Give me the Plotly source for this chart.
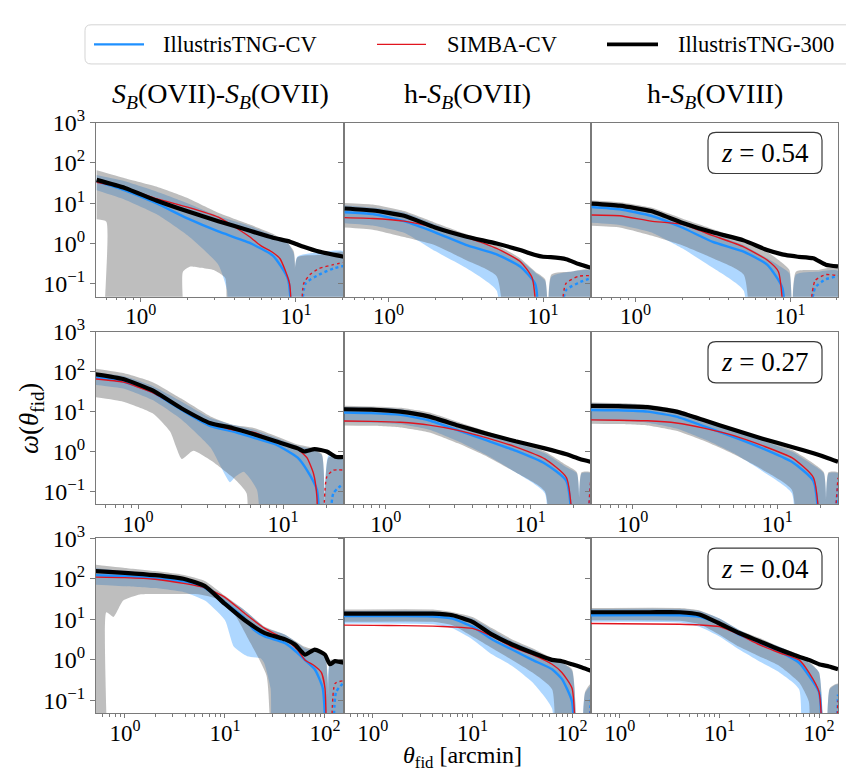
import math
import plotly.graph_objects as go

W, H = 846, 774
Z = 1e-4  # stands for zero / negative values (falls below the log axis)

# ---------------- labels ----------------
col_titles = [
    "<i>S</i><sub><i>B</i></sub>(OVII)-<i>S</i><sub><i>B</i></sub>(OVII)",
    "h-<i>S</i><sub><i>B</i></sub>(OVII)",
    "h-<i>S</i><sub><i>B</i></sub>(OVIII)",
]
redshifts = ["0.54", "0.27", "0.04"]
legend_names = ["IllustrisTNG-CV", "SIMBA-CV", "IllustrisTNG-300"]
x_limits = [(0.515, 20.4), (0.513, 26.3), (0.513, 155.0)]
y_limits = (0.048, 1000.0)
x_tick_vals = [[1, 10], [1, 10], [1, 10, 100]]
x_tick_text = [["10<sup>0</sup>", "10<sup>1</sup>"], ["10<sup>0</sup>", "10<sup>1</sup>"],
               ["10<sup>0</sup>", "10<sup>1</sup>", "10<sup>2</sup>"]]
y_tick_vals = [0.1, 1, 10, 100, 1000]
y_tick_text = ["10<sup>−1</sup>", "10<sup>0</sup>", "10<sup>1</sup>", "10<sup>2</sup>", "10<sup>3</sup>"]

# ---------------- data: (theta [arcmin], omega) ----------------
# Row 1 (z = 0.54)
r1c1_black = [(0.52,38),(0.79,24),(1.26,11.7),(2.0,6.3),(3.16,3.6),(5.0,2.1),(7.1,1.4),(8.9,1.15),(10,0.98),(11.2,0.83),(14.1,0.63),(20.4,0.47)]
r1c1_blue = [(0.52,35),(0.79,21),(1.26,10),(2.0,4.2),(3.16,2.0),(5.0,1.05),(7.1,0.5),(8.9,0.13),(9.6,Z)]
r1c1_blue_neg = [(10.4,Z),(11.5,0.1),(14.1,0.17),(17.4,0.24),(20.4,0.28)]
r1c1_red = [(0.52,33),(0.79,24),(1.26,13),(2.0,8.0),(3.16,4.5),(5.0,1.5),(5.9,0.9),(7.1,0.6),(7.9,0.42),(9.1,0.1),(9.5,Z)]
r1c1_red_neg = [(10.6,Z),(11.2,0.1),(12.3,0.17),(14.1,0.24),(17.4,0.30),(20.4,0.34)]
r1c1_gray_hi = [(0.52,66),(0.79,42),(1.26,26),(2.0,13.5),(3.16,5.8),(5.0,3.0),(7.1,1.74),(8.9,1.0),(9.7,0.63),(9.95,Z),(10.2,0.45),(14.1,0.52),(20.4,0.6)]
r1c1_gray_lo = [(0.52,4.0),(0.6,3.5),(0.61,Z),(1.85,Z),(1.87,0.2),(2.09,0.27),(2.43,0.25),(2.95,0.22),(3.5,0.14),(3.78,Z),(20.4,Z)]
r1c1_blue_hi = [(0.52,50),(0.79,35),(1.26,19.5),(2.0,10),(3.16,4.8),(5.0,2.75),(7.1,1.6),(8.9,1.0),(9.7,0.55),(9.95,Z),(10.2,0.47),(14.1,0.6),(20.4,0.63)]
r1c1_blue_lo = [(0.52,21),(0.79,12.3),(1.26,5.4),(2.0,1.6),(3.16,0.3),(3.6,0.068),(3.8,Z),(20.4,Z)]

r1c2_black = [(0.52,7.4),(0.79,6.6),(1.26,4.9),(2.0,2.5),(3.16,1.5),(5.0,1.0),(7.1,0.69),(8.9,0.52),(10,0.47),(11.2,0.46),(14.1,0.41),(17,0.31),(20.4,0.25)]
r1c2_blue = [(0.52,6.0),(0.79,5.4),(1.26,3.6),(2.0,1.9),(3.16,0.93),(5.0,0.54),(7.1,0.27),(8.9,0.098),(9.4,Z)]
r1c2_blue_neg = [(12,Z),(14,0.068),(17,0.107),(20.4,0.14)]
r1c2_red = [(0.52,4.4),(0.79,4.2),(1.26,3.6),(2.0,2.5),(3.16,1.45),(5.0,0.76),(7.1,0.36),(8.5,0.14),(9.7,Z)]
r1c2_red_neg = [(12.4,Z),(14,0.1),(17,0.155),(20.4,0.16)]
r1c2_gray_hi = [(0.52,10.2),(0.79,9.3),(1.26,6.4),(2.0,3.3),(3.16,1.74),(5.0,0.93),(7.1,0.43),(8.9,0.2),(10.3,0.13),(10.9,Z),(11.3,0.17),(15,0.2),(20.4,0.22)]
r1c2_gray_lo = [(0.52,2.5),(0.79,2.2),(1.26,1.45),(2.0,0.91),(3.16,0.39),(5.0,0.155),(6.7,Z),(20.4,Z)]
r1c2_blue_hi = [(0.52,8.9),(0.79,7.8),(1.26,5.9),(2.0,3.0),(3.16,1.45),(5.0,0.76),(7.1,0.39),(8.9,0.19),(10.3,0.12),(10.9,Z),(11.3,0.15),(15,0.2),(20.4,0.21)]
r1c2_blue_lo = [(0.52,3.2),(0.79,2.8),(1.26,1.85),(2.0,0.65),(3.16,0.25),(5.0,0.068),(5.5,Z),(20.4,Z)]

r1c3_black = [(0.52,9.8),(0.79,8.7),(1.26,6.4),(2.0,3.3),(3.16,1.9),(5.0,1.2),(7.1,0.69),(8.9,0.54),(10,0.5),(11.2,0.47),(14.1,0.43),(17,0.3),(20.4,0.27)]
r1c3_blue = [(0.52,8.1),(0.79,7.1),(1.26,4.9),(2.0,2.5),(3.16,1.1),(5.0,0.63),(7.1,0.3),(8.9,0.08),(9.5,Z)]
r1c3_blue_neg = [(12,Z),(14.5,0.08),(17,0.13),(20.4,0.155)]
r1c3_red = [(0.52,5.1),(0.79,4.9),(1.26,3.6),(2.0,3.0),(3.16,1.58),(5.0,0.83),(7.1,0.39),(8.4,0.2),(9.7,Z)]
r1c3_red_neg = [(12,Z),(14.5,0.12),(17,0.17),(20.4,0.16)]
r1c3_gray_hi = [(0.52,11.7),(0.79,10.6),(1.26,7.8),(2.0,4.2),(3.16,2.3),(5.0,1.2),(7.1,0.63),(8.9,0.33),(9.9,0.22),(10.4,Z),(10.9,0.2),(15,0.22),(20.4,0.25)]
r1c3_gray_lo = [(0.52,2.75),(0.79,2.5),(1.26,1.58),(2.0,0.91),(3.16,0.43),(5.0,0.17),(6.4,Z),(20.4,Z)]
r1c3_blue_hi = [(0.52,10.2),(0.79,8.7),(1.26,6.4),(2.0,3.3),(3.16,1.74),(5.0,0.91),(7.1,0.43),(8.9,0.25),(9.9,0.18),(10.4,Z),(10.9,0.17),(15,0.2),(20.4,0.21)]
r1c3_blue_lo = [(0.52,3.3),(0.79,2.9),(1.26,1.9),(2.0,0.76),(3.16,0.25),(5.0,0.068),(5.5,Z),(20.4,Z)]

# Row 2 (z = 0.27)
r2c1_black = [(0.51,87),(0.79,66),(1.26,34),(2.0,12),(3.16,5.1),(4.47,3.9),(6.3,2.7),(8.9,1.8),(12.6,1.2),(14,1.0),(16.5,1.15),(20,1.0),(23,0.74),(26.3,0.72)]
r2c1_blue = [(0.51,72),(0.79,57),(1.26,31),(2.0,11),(3.16,4.3),(4.47,3.2),(6.3,2.2),(8.9,1.5),(12.6,0.7),(14.6,0.34),(17.1,0.11),(18.5,Z)]
r2c1_blue_neg = [(20.6,Z),(22.2,0.089),(26.3,0.16)]
r2c1_red = [(0.51,66),(0.79,55),(1.26,30),(2.0,12),(3.16,5.1),(4.47,3.5),(6.3,3.0),(8.9,1.8),(12.6,1.15),(14.6,0.7),(16.2,0.28),(17.1,0.074),(17.6,Z)]
r2c1_red_neg = [(18.5,Z),(20,0.23),(22.2,0.34),(26.3,0.34)]
r2c1_gray_hi = [(0.51,120),(0.79,93),(1.26,55),(2.0,21),(3.16,7.6),(4.47,4.7),(6.3,3.9),(8.9,2.45),(12.6,1.5),(15.8,1.26),(18.5,0.87),(19.3,Z),(20.6,0.71),(26.3,0.59)]
r2c1_gray_lo = [(0.51,23),(0.79,17.8),(1.26,9.1),(1.66,3.2),(2.0,0.65),(2.4,1.05),(3.2,0.59),(4.6,0.21),(5.6,0.09),(6.1,Z),(26.3,Z)]
r2c1_blue_hi = [(0.51,93),(0.79,78),(1.26,44),(2.0,17.8),(3.16,6.9),(4.47,4.7),(6.3,3.5),(8.9,2.2),(12.6,1.38),(15.8,1.15),(18.5,0.8),(19.3,Z),(20.6,0.8),(26.3,0.71)]
r2c1_blue_lo = [(0.51,47),(0.79,38),(1.26,19.5),(2.0,6.3),(3.16,1.26),(4.3,0.17),(4.66,0.23),(5.35,0.31),(6.6,0.11),(8.1,Z),(26.3,Z)]

r2c2_black = [(0.51,11.5),(0.79,11.2),(1.26,10),(2.0,7.5),(3.16,4.5),(5.0,2.8),(7.9,1.8),(12.6,1.2),(17.8,0.85),(22,0.65),(26.3,0.55)]
r2c2_blue = [(0.51,9.5),(0.79,9.2),(1.26,8.3),(2.0,6.0),(3.16,3.4),(5.0,1.9),(7.9,1.05),(12.6,0.5),(17.8,0.18),(20.5,Z)]
r2c2_blue_neg = [(22.5,Z),(26.3,0.15)]
r2c2_red = [(0.51,5.8),(0.79,5.7),(1.26,5.4),(2.0,4.6),(3.16,3.4),(5.0,2.2),(7.9,1.3),(12.6,0.65),(17.8,0.22),(21,Z)]
r2c2_red_neg = [(22.5,Z),(26.3,0.25)]
r2c2_gray_hi = [(0.51,14),(0.79,13.5),(1.26,12.5),(2.0,9.5),(3.16,5.5),(5.0,3.2),(7.9,1.8),(12.6,1.0),(17.8,0.45),(21,0.3),(21.8,Z),(22.6,0.3),(26.3,0.3)]
r2c2_gray_lo = [(0.51,4.5),(0.79,4.4),(1.26,4.0),(2.0,3.0),(3.16,1.6),(5.0,0.75),(7.9,0.3),(12.6,0.1),(15,Z),(26.3,Z)]
r2c2_blue_hi = [(0.51,13),(0.79,12.5),(1.26,11.5),(2.0,8.5),(3.16,5.0),(5.0,2.9),(7.9,1.7),(12.6,0.9),(17.8,0.4),(21,0.28),(21.8,Z),(22.6,0.28),(26.3,0.28)]
r2c2_blue_lo = [(0.51,5.5),(0.79,5.3),(1.26,4.8),(2.0,3.5),(3.16,1.8),(5.0,0.8),(7.9,0.3),(12.6,0.09),(14,Z),(26.3,Z)]

r2c3_black = [(0.51,14),(0.79,13.8),(1.26,13),(2.0,10),(3.16,6),(5.0,3.5),(7.9,2.1),(12.6,1.3),(17.8,0.9),(22,0.7),(26.3,0.55)]
r2c3_blue = [(0.51,11),(0.79,10.8),(1.26,10),(2.0,7.5),(3.16,4.2),(5.0,2.3),(7.9,1.2),(12.6,0.55),(17.8,0.18),(20.5,Z)]
r2c3_blue_neg = [(22.5,Z),(26.3,0.15)]
r2c3_red = [(0.51,6.2),(0.79,6.1),(1.26,5.9),(2.0,5.2),(3.16,3.8),(5.0,2.5),(7.9,1.4),(12.6,0.7),(17.8,0.22),(21,Z)]
r2c3_red_neg = [(22.5,Z),(26.3,0.22)]
r2c3_gray_hi = [(0.51,17),(0.79,16.5),(1.26,15),(2.0,11.5),(3.16,6.5),(5.0,3.8),(7.9,2.1),(12.6,1.1),(17.8,0.5),(21,0.3),(21.8,Z),(22.6,0.3),(26.3,0.3)]
r2c3_gray_lo = [(0.51,5),(0.79,4.9),(1.26,4.5),(2.0,3.3),(3.16,1.8),(5.0,0.85),(7.9,0.35),(12.6,0.11),(15,Z),(26.3,Z)]
r2c3_blue_hi = [(0.51,16),(0.79,15.5),(1.26,14),(2.0,10.5),(3.16,6.0),(5.0,3.4),(7.9,1.9),(12.6,1.0),(17.8,0.45),(21,0.28),(21.8,Z),(22.6,0.28),(26.3,0.28)]
r2c3_blue_lo = [(0.51,6),(0.79,5.8),(1.26,5.3),(2.0,3.8),(3.16,2.0),(5.0,0.9),(7.9,0.32),(12.6,0.09),(14,Z),(26.3,Z)]

# Row 3 (z = 0.04)
r3c1_black = [(0.51,155),(1,141),(2,123),(4,98),(6.3,66),(10,24),(15.8,9.5),(25,4.6),(40,3.2),(50,2.4),(63,1.35),(79,1.8),(100,1.35),(112,0.78),(126,0.93),(155,0.85)]
r3c1_blue = [(0.51,123),(1,117),(2,102),(4,85),(6.3,60),(10,26),(15.8,10.5),(19.5,5.5),(25,3.8),(40,2.6),(53,1.5),(63,1.0),(79,0.59),(95,0.2),(107,Z)]
r3c1_blue_neg = [(120,Z),(129,0.16),(155,0.28)]
r3c1_red = [(0.51,110),(1,107),(2,98),(4,76),(6.3,60),(10,35),(15.8,14),(25,6.0),(40,3.2),(53,1.8),(63,1.0),(79,0.71),(92,0.49),(100,0.2),(106,Z)]
r3c1_red_neg = [(117,Z),(126,0.26),(155,0.31)]
r3c1_gray_hi = [(0.51,224),(1,186),(2,155),(4,123),(6.3,89),(10,38),(15.8,16.6),(25,6.6),(40,4.2),(63,2.1),(79,1.78),(100,1.48),(108,Z),(113,1.0),(126,1.0),(155,0.93)]
r3c1_gray_lo = [(0.51,Z),(0.64,Z),(0.65,15),(0.77,11.5),(0.96,29),(1.41,41),(2.6,42),(5.6,41),(8.3,32),(12.3,14),(18,2.6),(26,0.41),(36,Z),(155,Z)]
r3c1_blue_hi = [(0.51,186),(1,155),(2,132),(4,107),(6.3,72),(10,35),(15.8,16.6),(25,6.3),(40,4.2),(63,1.95),(79,1.6),(100,1.23),(108,Z),(113,0.93),(155,0.85)]
r3c1_blue_lo = [(0.51,72),(1,66),(2,59),(4,46),(6.3,29),(10,9.5),(12.3,2.1),(16.7,1.23),(22.7,1.1),(24.6,0.85),(28.6,0.2),(33,Z),(155,Z)]

r3c2_black = [(0.51,13.8),(1,13.8),(2,13.8),(4,13.8),(6.3,12.6),(10,8.7),(15.8,4.2),(25,2.4),(40,1.5),(63,1.0),(79,0.93),(100,0.78),(126,0.65),(155,0.54)]
r3c2_blue = [(0.51,12),(1,12),(2,12),(4,11.8),(6.3,10.5),(10,6.6),(15.8,3.2),(25,1.8),(40,1.0),(63,0.59),(79,0.34),(100,0.093),(107,Z)]
r3c2_blue_neg = [(135,Z),(155,0.13)]
r3c2_red = [(0.51,7.2),(1,7.1),(2,7.0),(4,6.8),(6.3,6.5),(10,6.0),(15.8,3.8),(25,2.1),(40,1.35),(63,0.78),(79,0.49),(100,0.2),(112,Z)]
r3c2_red_neg = [(135,Z),(155,0.1)]
r3c2_gray_hi = [(0.51,17.4),(4,17.4),(6.3,15),(10,11.5),(15.8,6.0),(25,3.2),(40,1.95),(63,1.12),(79,0.85),(100,0.59),(118,Z),(135,0.16),(155,0.26)]
r3c2_gray_lo = [(0.51,8.7),(4,8.7),(6.3,7.2),(10,3.8),(15.8,1.95),(25,1.0),(40,0.49),(63,0.19),(76,Z),(155,Z)]
r3c2_blue_hi = [(0.51,16),(4,16),(6.3,13.8),(10,10.5),(15.8,5.5),(25,2.9),(40,1.8),(63,1.0),(79,0.85),(100,0.54),(118,Z),(135,0.15),(155,0.23)]
r3c2_blue_lo = [(0.51,7.9),(4,7.6),(6.3,6.0),(10,3.2),(15.8,1.35),(25,0.71),(40,0.28),(63,0.063),(70,Z),(155,Z)]

r3c3_black = [(0.51,15),(1,15),(2,15),(4,15),(6.3,13.2),(10,7.9),(15.8,4.6),(25,2.9),(40,1.8),(63,1.2),(79,1.0),(100,0.78),(126,0.69),(155,0.59)]
r3c3_blue = [(0.51,12.6),(4,12.6),(6.3,11.5),(10,7.9),(15.8,4.2),(25,2.6),(40,1.6),(63,0.85),(79,0.41),(100,0.16),(110,Z)]
r3c3_blue_neg = [(138,Z),(155,0.14)]
r3c3_red = [(0.51,7.9),(4,7.6),(6.3,7.3),(10,6.6),(15.8,4.2),(25,2.4),(40,1.5),(63,1.0),(79,0.49),(100,0.16),(113,Z)]
r3c3_red_neg = [(135,Z),(155,0.1)]
r3c3_gray_hi = [(0.51,19),(4,19),(6.3,16.6),(10,10.5),(15.8,5.5),(25,3.5),(40,2.1),(63,1.35),(79,0.93),(100,0.49),(118,Z),(128,0.2),(155,0.26)]
r3c3_gray_lo = [(0.51,9.5),(4,9.2),(6.3,7.6),(10,4.2),(15.8,2.1),(25,1.23),(40,0.71),(63,0.28),(79,0.093),(85,Z),(155,Z)]
r3c3_blue_hi = [(0.51,18),(4,18),(6.3,16),(10,10.5),(15.8,5.5),(25,3.2),(40,2.1),(63,1.23),(79,0.85),(100,0.49),(118,Z),(128,0.19),(155,0.25)]
r3c3_blue_lo = [(0.51,8.7),(4,8.4),(6.3,6.6),(10,3.8),(15.8,1.8),(25,0.93),(40,0.49),(63,0.19),(72,Z),(155,Z)]

# ---------------- styling ----------------
SERIF = "Liberation Serif"
BLUE = "rgb(30,144,255)"
RED = "rgb(225,20,30)"
BLACK = "black"
BLUE_FILL = "rgba(30,144,255,0.36)"
GRAY_FILL = "rgba(100,100,100,0.42)"
SPINE = "#7a7a7a"

col_px = [(96, 344), (344, 591), (591, 838)]
row_px = [(108, 286), (322, 498), (533, 712)]


def px(x):
    return x / W


def py(y):
    return 1 - y / H


def split(pairs):
    return [p[0] for p in pairs], [p[1] for p in pairs]


fig = go.Figure()
g = globals()
for r in range(3):
    for c in range(3):
        k = r * 3 + c + 1
        xa = "x" if k == 1 else f"x{k}"
        ya = "y" if k == 1 else f"y{k}"
        pre = f"r{r+1}c{c+1}_"
        d = {n: g[pre + n] for n in ["black", "blue", "blue_neg", "red", "red_neg",
                                      "gray_hi", "gray_lo", "blue_hi", "blue_lo"]}
        # bands
        for hi, lo, col in [(d["blue_hi"], d["blue_lo"], BLUE_FILL), (d["gray_hi"], d["gray_lo"], GRAY_FILL)]:
            xh, yh = split(hi)
            xl, yl = split(lo)
            fig.add_trace(go.Scatter(x=xh + xl[::-1], y=yh + yl[::-1], xaxis=xa, yaxis=ya,
                                     fill="toself", fillcolor=col, mode="lines",
                                     line=dict(width=0, color=col, shape="spline", smoothing=0.5),
                                     hoverinfo="skip", showlegend=False))
        # lines
        for key, col, wdt, dash in [("blue", BLUE, 2.4, "solid"), ("blue_neg", BLUE, 2.4, "dot"),
                                    ("red", RED, 1.4, "solid"), ("red_neg", RED, 1.4, "dot"),
                                    ("black", BLACK, 4.2, "solid")]:
            xs, ys = split(d[key])
            fig.add_trace(go.Scatter(x=xs, y=ys, xaxis=xa, yaxis=ya, mode="lines",
                                     line=dict(color=col, width=wdt, dash=dash, shape="spline", smoothing=0.5),
                                     hoverinfo="skip", showlegend=False))

        x0, x1 = col_px[c]
        y0, y1 = row_px[r]
        lo, hi = x_limits[r]
        minor_vals = [m * 10 ** e for e in range(-1, 3) for m in range(2, 10) if lo <= m * 10 ** e <= hi]
        fig.layout[("xaxis" if k == 1 else f"xaxis{k}")] = dict(
            type="log", range=[math.log10(lo), math.log10(hi)], domain=[px(x0), px(x1)],
            anchor=ya, showline=True, mirror=True, linecolor=SPINE, linewidth=1,
            ticks="outside", ticklen=4, tickwidth=1, tickcolor=SPINE, ticklabelstandoff=-5,
            tickmode="array", tickvals=x_tick_vals[r], ticktext=x_tick_text[r],
            tickfont=dict(family=SERIF, size=23, color="black"),
            showgrid=False, zeroline=False,
            minor=dict(tickmode="array", tickvals=minor_vals, ticks="outside", ticklen=2.5,
                       tickwidth=1, tickcolor=SPINE, showgrid=False),
        )
        fig.layout[("yaxis" if k == 1 else f"yaxis{k}")] = dict(
            type="log", range=[math.log10(y_limits[0]), math.log10(y_limits[1])],
            domain=[py(y1), py(y0)], anchor=xa, showline=True, mirror=True,
            linecolor=SPINE, linewidth=1, ticks="outside", ticklen=5, tickwidth=1,
            tickcolor=SPINE, tickmode="array", tickvals=y_tick_vals, ticktext=y_tick_text,
            showticklabels=(c == 0), tickfont=dict(family=SERIF, size=24, color="black"),
            showgrid=False, zeroline=False,
        )


def rounded(x0, y0, x1, y1, rad):
    P = lambda x, y: f"{px(x):.5f},{py(y):.5f}"
    return (f"M {P(x0+rad,y0)} L {P(x1-rad,y0)} Q {P(x1,y0)} {P(x1,y0+rad)} "
            f"L {P(x1,y1-rad)} Q {P(x1,y1)} {P(x1-rad,y1)} L {P(x0+rad,y1)} "
            f"Q {P(x0,y1)} {P(x0,y1-rad)} L {P(x0,y0+rad)} Q {P(x0,y0)} {P(x0+rad,y0)} Z")


shapes = []
annotations = []

# legend (drawn manually)
shapes.append(dict(type="path", xref="paper", yref="paper", path=rounded(85, 8, 870, 48, 6),
                   line=dict(color="#d4d4d4", width=1), fillcolor="white"))
leg_items = [(94, 144, 161, BLUE, 2.4), (377, 426, 445, RED, 1.4), (607, 658, 676, BLACK, 3.8)]
for (lx0, lx1, tx, col, wdt), name in zip(leg_items, legend_names):
    shapes.append(dict(type="line", xref="paper", yref="paper", x0=px(lx0), x1=px(lx1),
                       y0=py(28), y1=py(28), line=dict(color=col, width=wdt)))
    annotations.append(dict(text=name, xref="paper", yref="paper", x=px(tx), y=py(28),
                            xanchor="left", yanchor="middle", showarrow=False,
                            font=dict(family=SERIF, size=22.5, color="black")))

# column titles
for c, t in enumerate(col_titles):
    x0, x1 = col_px[c]
    annotations.append(dict(text=t, xref="paper", yref="paper", x=px((x0 + x1) / 2), y=py(80),
                            xanchor="center", yanchor="middle", showarrow=False,
                            font=dict(family=SERIF, size=28, color="black")))

# redshift boxes
for r, zs in enumerate(redshifts):
    top = row_px[r][0] + 10
    shapes.append(dict(type="path", xref="paper", yref="paper", path=rounded(708, top, 822, top + 42, 8),
                       line=dict(color="#3a3a3a", width=1.2), fillcolor="white"))
    annotations.append(dict(text=f"<i>z</i> = {zs}", xref="paper", yref="paper",
                            x=px(765), y=py(top + 21), xanchor="center", yanchor="middle",
                            showarrow=False, font=dict(family=SERIF, size=27, color="black")))

# axis labels
annotations.append(dict(text="<i>ω</i>(<i>θ</i><sub>fid</sub>)", xref="paper", yref="paper",
                        x=px(31), y=py(410), textangle=-90, xanchor="center", yanchor="middle",
                        showarrow=False, font=dict(family=SERIF, size=27, color="black")))
annotations.append(dict(text="<i>θ</i><sub>fid</sub> [arcmin]", xref="paper", yref="paper",
                        x=px(463), y=py(773), xanchor="center", yanchor="bottom", borderpad=0,
                        showarrow=False, font=dict(family=SERIF, size=24, color="black")))

fig.update_layout(width=W, height=H, margin=dict(l=0, r=0, t=0, b=0),
                  paper_bgcolor="white", plot_bgcolor="white", showlegend=False,
                  shapes=shapes, annotations=annotations)
fig.write_html("out.html", config={"displayModeBar": False},
               post_script="document.body.style.margin='0';document.body.style.overflow='hidden';")
